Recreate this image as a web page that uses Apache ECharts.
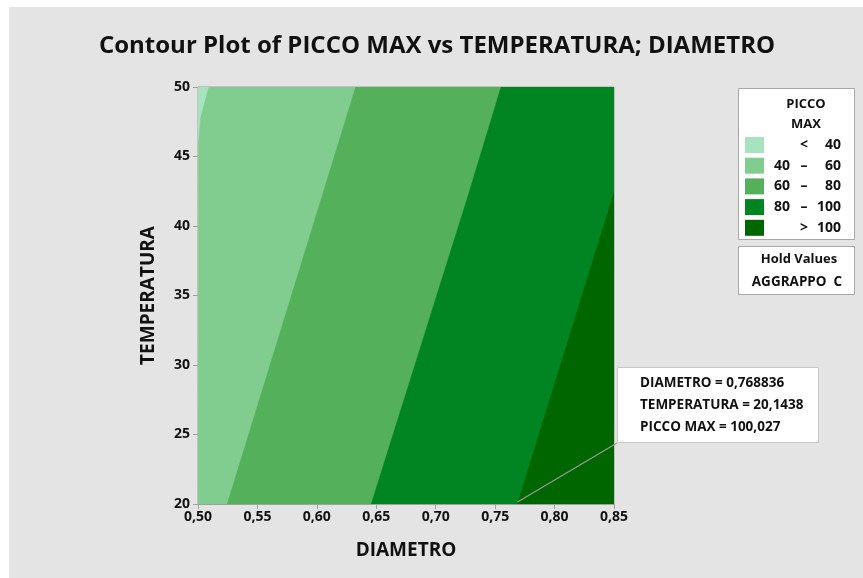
<!DOCTYPE html>
<html>
<head>
<meta charset="utf-8">
<script src="https://cdn.jsdelivr.net/npm/echarts@6/dist/echarts.min.js"></script>
<style>
html,body{margin:0;padding:0;background:#ffffff;}
#chart{width:863px;height:578px;}
</style>
</head>
<body>
<div id="chart"></div>
<script>
// ---- data ----
const levelLabels = [['', '<', '40'], ['40', '–', '60'], ['60', '–', '80'], ['80', '–', '100'], ['', '>', '100']];
const levelColors = ['#A6E3BE', '#80CD8F', '#55B05B', '#008522', '#006600'];
// contour lines as [DIAMETRO, TEMPERATURA] points (from start edge to end edge)
const contour40 = [[0.5003, 45.8], [0.5023, 47.8], [0.5092, 50]];
const contour60 = [[0.5246, 20], [0.6048, 42.25], [0.6327, 50]];
const contour80 = [[0.6458, 20], [0.7275, 42.25], [0.7550, 50]];
const contour100 = [[0.7688, 20], [0.7997, 28.55], [0.8500, 42.4]];
const xTicks = [0.50, 0.55, 0.60, 0.65, 0.70, 0.75, 0.80, 0.85];
const yTicks = [20, 25, 30, 35, 40, 45, 50];
const probe = { diametro: 0.768836, temperatura: 20.1438, picco: '100,027' };

const xMin = 0.5, xMax = 0.85, yMin = 20, yMax = 50;

function regionPolygon(contour) {
  const pts = [];
  if (!contour) {
    return [[xMin, yMin], [xMin, yMax], [xMax, yMax], [xMax, yMin]];
  }
  const first = contour[0], last = contour[contour.length - 1];
  if (first[1] > yMin) pts.push([xMin, yMin]);
  contour.forEach(p => pts.push(p));
  if (last[0] < xMax) pts.push([xMax, yMax]);
  pts.push([xMax, yMin]);
  return pts;
}
const regions = [null, contour40, contour60, contour80, contour100].map(regionPolygon);

const chart = echarts.init(document.getElementById('chart'), null, { renderer: 'canvas' });
const FONT = '"Open Sans", "Noto Sans", sans-serif';
const fmt = v => v.toFixed(2).replace('.', ',');

const option = {
  backgroundColor: '#ffffff',
  animation: false,
  title: {
    text: 'Contour Plot of PICCO MAX vs TEMPERATURA; DIAMETRO',
    left: 432, top: 29, textAlign: 'center',
    textStyle: { fontFamily: FONT, fontSize: 24, fontWeight: 'bold', color: '#111' }
  },
  grid: { left: 198, top: 87, width: 416, height: 417, show: true, borderColor: '#a0a0a0', borderWidth: 1, backgroundColor: 'transparent' },
  xAxis: {
    type: 'value', min: xMin, max: xMax, interval: 0.05,
    name: 'DIAMETRO', nameLocation: 'middle', nameGap: 37,
    nameTextStyle: { fontFamily: FONT, fontSize: 19, fontWeight: 'bold', color: '#111' },
    axisLine: { show: true, onZero: false, lineStyle: { color: '#a0a0a0' } },
    axisTick: { show: true, length: 5, lineStyle: { color: '#a0a0a0' } },
    splitLine: { show: false },
    axisLabel: { fontFamily: FONT, fontSize: 14, fontWeight: 'bold', color: '#111', margin: 6, formatter: fmt }
  },
  yAxis: {
    type: 'value', min: yMin, max: yMax, interval: 5,
    name: 'TEMPERATURA', nameLocation: 'middle', nameGap: 40,
    nameTextStyle: { fontFamily: FONT, fontSize: 19, fontWeight: 'bold', color: '#111' },
    axisLine: { show: true, onZero: false, lineStyle: { color: '#a0a0a0' } },
    axisTick: { show: true, length: 5, lineStyle: { color: '#a0a0a0' } },
    splitLine: { show: false },
    axisLabel: { fontFamily: FONT, fontSize: 14, fontWeight: 'bold', color: '#111', margin: 8 }
  },
  series: [{
    type: 'custom',
    coordinateSystem: 'cartesian2d',
    clip: true,
    data: regions.map((r, i) => [i]),
    encode: { x: -1, y: -1 },
    renderItem: function (params, api) {
      const i = params.dataIndex;
      const pts = regions[i].map(p => api.coord(p));
      return {
        type: 'polygon',
        shape: { points: pts },
        style: { fill: levelColors[i], stroke: levelColors[i], lineWidth: 0.5 }
      };
    }
  }]
};
chart.setOption(option);

// overlay graphics: panel background, legend, hold values, annotation
const g = [];
g.push({ type: 'rect', z: -10, silent: true, shape: { x: 9, y: 7, width: 854, height: 571 }, style: { fill: '#E4E4E4' } });
// legend box
g.push({ type: 'rect', z: 10, shape: { x: 738.5, y: 88.5, width: 116, height: 151 }, style: { fill: '#fff', stroke: '#a8a8a8', lineWidth: 1 } });
g.push({ type: 'text', z: 11, style: { text: 'PICCO', x: 806, y: 104, textAlign: 'center', textVerticalAlign: 'middle', font: 'bold 13px ' + FONT, fill: '#111' } });
g.push({ type: 'text', z: 11, style: { text: 'MAX', x: 806, y: 124, textAlign: 'center', textVerticalAlign: 'middle', font: 'bold 13px ' + FONT, fill: '#111' } });
levelLabels.forEach((lab, i) => {
  const cy = 145 + i * 20.7;
  g.push({ type: 'rect', z: 11, shape: { x: 745, y: cy - 8, width: 19, height: 16 }, style: { fill: levelColors[i] } });
  if (lab[0]) g.push({ type: 'text', z: 11, style: { text: lab[0], x: 790, y: cy, textAlign: 'right', textVerticalAlign: 'middle', font: 'bold 14px ' + FONT, fill: '#111' } });
  g.push({ type: 'text', z: 11, style: { text: lab[1], x: 804, y: cy, textAlign: 'center', textVerticalAlign: 'middle', font: 'bold 14px ' + FONT, fill: '#111' } });
  g.push({ type: 'text', z: 11, style: { text: lab[2], x: 841, y: cy, textAlign: 'right', textVerticalAlign: 'middle', font: 'bold 14px ' + FONT, fill: '#111' } });
});
// hold values box
g.push({ type: 'rect', z: 10, shape: { x: 738.5, y: 246.5, width: 116, height: 48 }, style: { fill: '#fff', stroke: '#a8a8a8', lineWidth: 1 } });
g.push({ type: 'text', z: 11, style: { text: 'Hold Values', x: 799, y: 259, textAlign: 'center', textVerticalAlign: 'middle', font: 'bold 13px ' + FONT, fill: '#111' } });
g.push({ type: 'text', z: 11, style: { text: 'AGGRAPPO  C', x: 797, y: 282, textAlign: 'center', textVerticalAlign: 'middle', font: 'bold 13.5px ' + FONT, fill: '#111' } });
// annotation
const pp = chart.convertToPixel({ gridIndex: 0 }, [probe.diametro, probe.temperatura]);
g.push({ type: 'line', z: 12, shape: { x1: pp[0], y1: pp[1], x2: 617, y2: 443 }, style: { stroke: '#9a9a9a', lineWidth: 1.2 } });
g.push({ type: 'rect', z: 10, shape: { x: 617.5, y: 367.5, width: 201, height: 75 }, style: { fill: '#fff', stroke: '#c8c8c8', lineWidth: 1 } });
const annLines = [
  'DIAMETRO = ' + String(probe.diametro).replace('.', ','),
  'TEMPERATURA = ' + String(probe.temperatura).replace('.', ','),
  'PICCO MAX = ' + probe.picco
];
annLines.forEach((t, i) => {
  g.push({ type: 'text', z: 11, style: { text: t, x: 640, y: 383 + i * 22.3, textAlign: 'left', textVerticalAlign: 'middle', font: 'bold 13.5px ' + FONT, fill: '#111' } });
});
chart.setOption({ graphic: g });
</script>
</body>
</html>
